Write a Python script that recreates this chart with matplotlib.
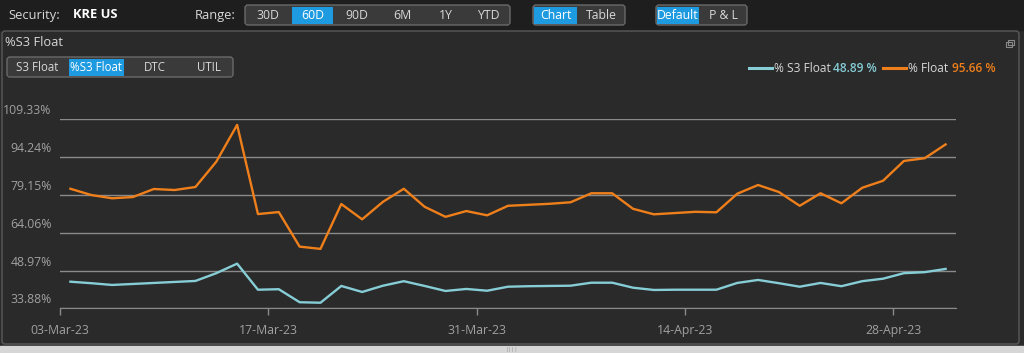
import matplotlib
matplotlib.use("Agg")
import matplotlib.pyplot as plt
import matplotlib.transforms as mtransforms
from matplotlib.patches import FancyBboxPatch, Rectangle

plt.rcParams["font.family"] = ["Open Sans", "DejaVu Sans"]

BG = "#2a2a2a"
TOPBAR = "#1e1e1e"
BORDER = "#5a5a5a"
GRID = "#8a8a8a"
LABEL = "#a0a0a0"
TEXT = "#d8d8d8"
BLUE = "#1e9ae0"
BTN = "#3a3a3a"
ORANGE = "#ef7f1a"
CYAN = "#86cdd6"

# business-day index 0..42 starting 03-Mar-23
tick_labels = ["03-Mar-23", "17-Mar-23", "31-Mar-23", "14-Apr-23", "28-Apr-23"]
y_ticks = [33.88, 48.97, 64.06, 79.15, 94.24, 109.33]

pct_float = [81.6, 79.1, 77.8, 78.3, 81.5, 81.1, 82.3, 92.4, 107.1, 71.5,
             72.3, 58.5, 57.6, 75.5, 69.4, 76.4, 81.6, 74.4, 70.4, 72.7,
             71.0, 74.8, 75.2, 75.6, 76.2, 79.8, 79.8, 73.6, 71.4, 71.9,
             72.4, 72.2, 79.6, 83.1, 80.3, 74.8, 79.8, 75.8, 82.0, 84.8,
             92.7, 93.8, 99.3]
pct_s3_float = [44.5, 43.9, 43.2, 43.6, 44.0, 44.4, 44.8, 47.9, 51.7, 41.3,
                41.5, 36.3, 36.1, 42.8, 40.4, 42.9, 44.7, 42.8, 40.8, 41.6,
                40.9, 42.5, 42.7, 42.8, 42.9, 44.1, 44.1, 42.1, 41.2, 41.3,
                41.3, 41.3, 44.0, 45.2, 43.9, 42.5, 44.0, 42.7, 44.7, 45.7,
                47.9, 48.3, 49.6]
legend_s3 = "48.89 %"
legend_float = "95.66 %"

range_buttons = ["30D", "60D", "90D", "6M", "1Y", "YTD"]
tabs = ["S3 Float", "%S3 Float", "DTC", "UTIL"]

W, H = 1024, 353
fig = plt.figure(figsize=(W / 100, H / 100), dpi=100)
fig.patch.set_facecolor(BG)

# UI layer in pixel coordinates
ui = fig.add_axes([0, 0, 1, 1], zorder=0)
ui.set_xlim(0, W)
ui.set_ylim(H, 0)
ui.axis("off")

ui.add_patch(Rectangle((0, 0), W, 30, color=TOPBAR))
ui.add_patch(FancyBboxPatch((2, 31), 1017, 313, boxstyle="round,pad=0,rounding_size=3",
                            fc=BG, ec=BORDER, lw=1))
ui.add_patch(Rectangle((0, 346), W, 7, color="#d6d6d6"))
ui.text(512, 350, "||||", color="#888888", fontsize=4, ha="center", va="center")

ui.text(8, 15, "Security:", color=TEXT, fontsize=9.3, va="center")
ui.text(73, 15, "KRE US", color="white", fontsize=9.3, fontweight="bold", va="center")
ui.text(195, 15, "Range:", color=TEXT, fontsize=9.3, va="center")


def button_group(x0, edges, labels, selected, y0, h, size=8.8):
    ui.add_patch(FancyBboxPatch((x0, y0), edges[-1] - x0, h,
                                boxstyle="round,pad=0,rounding_size=3",
                                fc=BTN, ec="#6a6a6a", lw=1, zorder=1))
    left = x0
    for i, (right, lab) in enumerate(zip(edges, labels)):
        fc = BLUE if i == selected else BTN
        ui.add_patch(Rectangle((left + 1, y0 + 1.5), right - left - 2, h - 3, fc=fc, ec="none", zorder=2))
        ui.text((left + right) / 2, y0 + h / 2 + 0.5, lab, color="white" if i == selected else TEXT,
                fontsize=size, ha="center", va="center", zorder=3)
        left = right


button_group(245, [291, 334, 380, 424, 467, 510], range_buttons, 1, 5, 20)
button_group(533, [578, 625], ["Chart", "Table"], 0, 5, 20)
button_group(656, [700, 747], ["Default", "P & L"], 0, 5, 20)

ui.text(5, 43, "%S3 Float", color=TEXT, fontsize=9.3, va="center")
button_group(7, [68, 125, 185, 233], tabs, 1, 57, 20, size=8.3)

# restore icon
ui.add_patch(Rectangle((1006, 42), 6, 5, fc="none", ec="#8a8a8a", lw=0.8))
ui.add_patch(Rectangle((1008, 39.5), 6, 5, fc="none", ec="#8a8a8a", lw=0.8))

# legend
ui.plot([749, 772], [68, 68], color=CYAN, lw=2.2)
ui.text(774, 68, "% S3 Float", color=TEXT, fontsize=8.6, va="center")
ui.text(833, 68, legend_s3, color=CYAN, fontsize=8.6, fontweight="semibold", va="center")
ui.plot([883, 906], [68, 68], color=ORANGE, lw=2.2)
ui.text(908, 68, "% Float", color=TEXT, fontsize=8.6, va="center")
ui.text(952, 68, legend_float, color=ORANGE, fontsize=8.6, fontweight="semibold", va="center")

# chart axes
left, right, top, bottom = 60, 956, 119.3, 308.3
ax = fig.add_axes([left / W, (H - bottom) / H, (right - left) / W, (bottom - top) / H], zorder=2)
ax.set_facecolor("none")
x = list(range(len(pct_float)))
ax.plot(x, pct_s3_float, color=CYAN, lw=1.7, solid_joinstyle="round", clip_on=False)
ax.plot(x, pct_float, color=ORANGE, lw=1.7, solid_joinstyle="round", clip_on=False)

ax.set_xlim(-0.5, len(x) - 0.5)
ax.set_ylim(y_ticks[0], y_ticks[-1])
ax.set_yticks(y_ticks)
ax.set_yticklabels([f"{v:.2f}%" for v in y_ticks])
ax.set_xticks([-0.5 + 10 * i for i in range(len(tick_labels))])
ax.set_xticklabels(tick_labels)
ax.grid(axis="y", color=GRID, lw=1)
ax.tick_params(axis="y", length=0, pad=6, labelcolor=LABEL, labelsize=8.8)
ax.tick_params(axis="x", length=5, width=1, color=GRID, pad=6, labelcolor=LABEL, labelsize=8.8)
offset = mtransforms.ScaledTranslation(0, 0.10, fig.dpi_scale_trans)
for lab in ax.get_yticklabels():
    lab.set_transform(lab.get_transform() + offset)
for side in ["left", "right", "top"]:
    ax.spines[side].set_visible(False)
ax.spines["bottom"].set_color(GRID)

fig.savefig("out.png", dpi=100, facecolor=BG)
